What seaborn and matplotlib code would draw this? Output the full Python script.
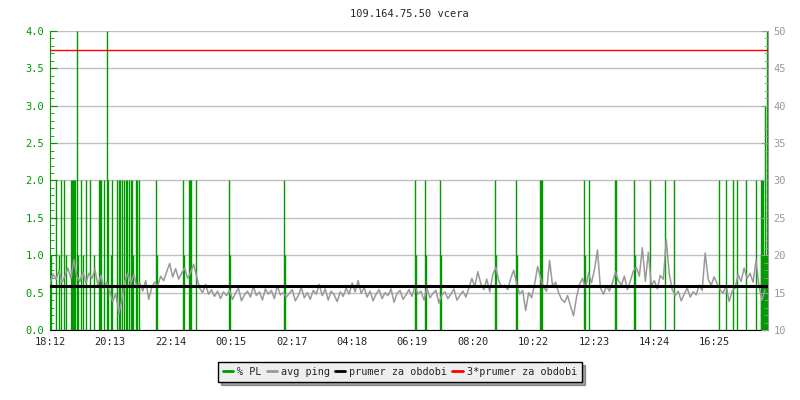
import numpy as np
import matplotlib
matplotlib.use("Agg")
import matplotlib.pyplot as plt
from matplotlib.lines import Line2D
from matplotlib.ticker import MultipleLocator
import seaborn as sns

# =========================
# DATA
# =========================
title = "109.164.75.50 vcera"
start_time = "18:12"
tick_labels = ["18:12", "20:13", "22:14", "00:15", "02:17", "04:18",
               "06:19", "08:20", "10:22", "12:23", "14:24", "16:25"]

# avg ping in ms, one value every 6 minutes from 18:12
ping_step = 6
avg_ping = [
    16.2, 17.5, 16.8, 17.9, 16.4, 17.2, 18.3, 16.9, 19.4, 17.1, 16.5, 17.8, 16.3, 17.6, 16.9, 18.1, 16.0, 17.3, 15.6, 16.4,
    15.1, 13.8, 14.9, 12.2, 14.0, 16.5, 17.6, 16.2, 17.4, 15.8, 16.3, 15.2, 16.6, 14.1, 15.7, 16.4, 15.9, 17.2, 16.6, 17.8,
    18.9, 17.1, 18.2, 16.8, 17.6, 18.3, 16.9, 17.7, 18.8, 17.2, 15.6, 15.0, 16.1, 14.8, 15.4, 14.5, 15.2, 14.2, 15.1, 14.6,
    15.3, 14.1, 14.9, 15.6, 13.9, 14.7, 15.2, 14.4, 15.8, 14.6, 15.1, 14.0, 15.5, 14.8, 15.3, 14.2, 15.9, 14.7, 15.0, 14.4,
    14.9, 15.4, 13.9, 14.6, 15.7, 14.3, 15.0, 14.1, 15.3, 14.8, 16.1, 14.6, 15.5, 14.0, 15.2, 14.7, 13.8, 15.1, 14.5, 15.6,
    14.8, 16.3, 15.1, 16.6, 14.9, 15.7, 14.4, 15.2, 13.9, 14.8, 15.4, 14.2, 15.0, 14.6, 15.5, 13.7, 14.9, 15.3, 14.1, 14.7,
    15.4, 14.5, 15.9, 14.8, 15.2, 14.0, 15.6, 14.3, 14.9, 15.3, 13.6, 14.7, 15.1, 14.2, 14.8, 15.5, 14.0, 14.6, 15.2, 14.4,
    15.6, 16.9, 15.8, 17.8, 16.2, 15.4, 16.8, 15.1, 17.4, 18.4, 16.6, 15.7, 16.0, 15.4, 16.9, 18.0, 16.2, 14.8, 15.3, 12.6,
    15.0, 14.3, 16.2, 18.5, 16.9, 15.7, 15.2, 19.3, 15.9, 16.4, 15.0, 14.1, 13.7, 14.6, 13.2, 11.9, 14.4, 16.1, 16.9, 15.6,
    17.6, 16.3, 18.1, 20.7, 15.6, 14.8, 15.9, 15.2, 16.3, 17.8, 16.6, 16.0, 17.2, 15.4, 16.6, 17.9, 18.4, 17.2, 21.0, 16.5,
    20.4, 15.9, 16.6, 15.5, 17.3, 16.8, 22.1, 17.5, 15.4, 14.6, 15.2, 13.9, 14.8, 15.6, 14.4, 15.1, 14.7, 16.0, 15.3, 20.3,
    16.8, 16.0, 17.1, 16.2, 15.4, 14.9, 16.0, 13.8, 15.2, 15.6, 17.4, 16.5, 18.3, 16.9, 17.6, 16.4, 19.3, 15.8, 14.0, 15.4,
]

# packet loss events: minute since 18:12 and % PL
pl_minutes = [3, 13, 18, 23, 29, 32, 42, 44, 46, 48, 51, 55, 56, 62, 66, 73, 80, 88, 99, 101,
              103, 109, 115, 117, 123, 125, 135, 138, 141, 145, 149, 152, 154, 158, 162, 165, 167, 172, 175, 178,
              213, 215, 267, 269, 278, 280, 282, 292, 359, 361, 469, 471, 733, 735, 753, 755, 783, 785, 893, 895,
              935, 937, 982, 984, 987, 1071, 1073, 1080, 1133, 1136, 1171, 1173, 1203, 1233, 1252, 1342, 1355, 1369, 1377, 1395,
              1415, 1425, 1426, 1427, 1428, 1429, 1430, 1431, 1432, 1433, 1434, 1435, 1436, 1437, 1438, 1439]
pl_values = [1, 2, 1, 2, 2, 1, 2, 2, 2, 2, 2, 4, 1, 2, 1, 2, 2, 1, 2, 2,
             2, 2, 4, 2, 1, 2, 2, 2, 2, 2, 2, 2, 2, 2, 2, 2, 1, 2, 2, 2,
             2, 1, 2, 1, 2, 2, 2, 2, 2, 1, 2, 1, 2, 1, 2, 1, 2, 1, 2, 1,
             2, 1, 2, 2, 2, 2, 1, 2, 2, 2, 2, 1, 2, 2, 2, 2, 2, 2, 2, 2,
             2, 1, 2, 1, 2, 1, 2, 1, 1, 1, 3, 1, 1, 1, 4, 1]

ping_mean = 15.83  # prumer za obdobi

GREEN = "#009900"
GRAY = "#999999"
RED = "#ff0000"

# =========================
# STYLE
# =========================
sns.set_style("white")
plt.rcParams["font.family"] = ["DejaVu Sans Mono"]
plt.rcParams["font.size"] = 7.5

fig = plt.figure(figsize=(8, 4), dpi=100)
ax = fig.add_axes([50 / 800, 70 / 400, 718 / 800, 299 / 400])
ax2 = ax.twinx()

# % PL on the left axis
ax.vlines(pl_minutes, 0, pl_values, color=GREEN, lw=1)

# ping on the right axis
ping_x = np.arange(len(avg_ping)) * ping_step
sns.lineplot(x=ping_x, y=avg_ping, ax=ax2, color=GRAY, lw=1.1)
ax2.axhline(ping_mean, color="black", lw=2.2)
ax2.axhline(3 * ping_mean, color=RED, lw=1)

# =========================
# AXES
# =========================
sh, sm = map(int, start_time.split(":"))
xt = [((int(t[:2]) * 60 + int(t[3:])) - (sh * 60 + sm)) % 1440 for t in tick_labels]

ax.set_xlim(0, 1440)
ax.set_ylim(0, 4)
ax2.set_ylim(10, 50)
ax.set_xticks(xt)
ax.set_xticklabels(tick_labels)

ax.yaxis.set_major_locator(MultipleLocator(0.5))
ax.yaxis.set_minor_locator(MultipleLocator(0.1))
ax.yaxis.set_major_formatter(plt.FormatStrFormatter("%.1f"))
ax2.yaxis.set_major_locator(MultipleLocator(5))
ax2.yaxis.set_minor_locator(MultipleLocator(1))

ax.grid(axis="y", color="#c0c0c0", lw=1)
ax.set_axisbelow(True)

ax.tick_params(axis="y", which="major", direction="in", length=5, color=GREEN, labelcolor=GREEN, pad=4)
ax.tick_params(axis="y", which="minor", direction="in", length=3, color=GREEN)
ax.tick_params(axis="x", direction="in", length=4, color="black", pad=5)
ax2.tick_params(axis="y", which="major", direction="in", length=5, color=GRAY, labelcolor=GRAY, pad=4)
ax2.tick_params(axis="y", which="minor", direction="in", length=3, color=GRAY)

for a in (ax, ax2):
    a.spines["top"].set_visible(False)
    a.set_xlabel("")
    a.set_ylabel("")
ax.spines["left"].set_color(GREEN)
ax.spines["bottom"].set_color("black")
ax.spines["right"].set_visible(False)
ax2.spines["left"].set_visible(False)
ax2.spines["bottom"].set_visible(False)
ax2.spines["right"].set_color(GRAY)

ax.set_title(title, fontsize=7.5, pad=10)

# =========================
# LEGEND
# =========================
handles = [Line2D([], [], color=GREEN, lw=2),
           Line2D([], [], color=GRAY, lw=2),
           Line2D([], [], color="black", lw=2),
           Line2D([], [], color=RED, lw=2)]
labels = ["% PL", "avg ping", "prumer za obdobi", "3*prumer za obdobi"]
leg = fig.legend(handles, labels, loc="center", bbox_to_anchor=(0.5, 1 - 372 / 400),
                 ncol=4, frameon=True, fancybox=False, shadow=True, framealpha=1,
                 edgecolor="black", facecolor="#eeeeee", handlelength=1.0,
                 handletextpad=0.4, columnspacing=0.5, borderpad=0.5, fontsize=7.3)

fig.savefig("out.png", dpi=100)
